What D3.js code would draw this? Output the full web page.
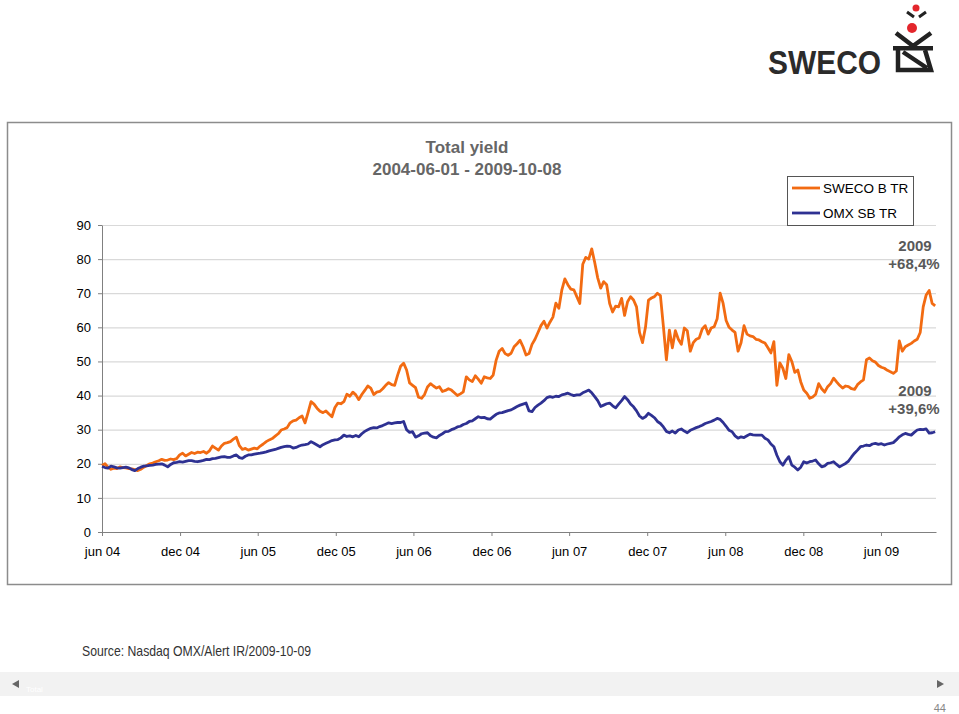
<!DOCTYPE html>
<html><head><meta charset="utf-8">
<script src="https://cdn.jsdelivr.net/npm/d3@7"></script>
<style>
body{margin:0;background:#fff;}
svg{display:block;font-family:"Liberation Sans",Arial,sans-serif;}
</style>
</head><body><svg id="c" width="959" height="714"></svg>
<script>
// ---------- DATA ----------
const startDate = "2004-06-01";
const endDate = "2009-10-08";
const seriesNames = ["SWECO B TR", "OMX SB TR"];
const seriesColors = ["#F26B12", "#2E3192"];
// weekly observations from 2004-06-01
const sweco = [
19.5,20.0,19.0,18.4,18.7,18.6,19.1,18.9,18.8,18.6,
18.5,18.3,18.0,18.4,19.0,19.5,20.0,20.2,20.6,20.9,
21.3,21.0,21.1,21.4,21.2,21.5,22.6,23.1,22.3,22.8,
23.3,23.0,23.4,23.3,23.6,23.1,23.8,25.2,24.6,24.0,
25.2,26.0,26.2,26.5,27.2,27.8,25.3,24.2,24.5,24.0,
24.3,24.6,24.4,25.2,25.8,26.5,27.0,27.4,28.1,28.8,
29.9,30.2,30.6,32.0,32.6,32.8,33.5,34.0,32.0,35.0,
38.2,37.5,36.3,35.4,35.0,35.5,34.6,33.8,36.5,37.8,
37.6,38.2,40.4,39.8,41.0,40.2,38.8,40.3,41.5,42.8,
42.2,40.3,41.0,41.2,42.0,43.0,43.8,43.2,43.0,46.0,
48.6,49.5,47.5,43.7,43.0,42.3,39.5,39.2,40.3,42.5,
43.5,42.8,42.2,42.6,41.2,41.5,42.0,41.6,40.8,40.0,
40.5,41.1,45.5,44.6,44.1,45.8,44.8,43.6,45.5,45.2,
45.0,46.0,50.4,53.0,53.8,52.3,51.8,52.4,54.3,55.2,
56.2,54.3,51.9,52.3,55.0,56.5,58.5,60.5,61.8,59.8,
61.5,63.0,67.1,65.6,71.0,74.2,72.5,71.2,71.0,69.0,
67.0,78.5,80.5,80.0,83.0,79.0,74.5,71.5,73.4,72.5,
67.0,64.5,66.2,66.0,68.5,63.5,67.5,69.0,68.0,66.0,
58.5,55.5,60.0,68.0,68.6,69.0,70.0,69.3,60.2,50.5,
59.2,54.0,59.0,56.5,55.0,59.8,59.0,53.0,55.5,56.5,
56.9,59.5,60.5,58.0,59.8,60.2,62.5,70.0,67.0,62.0,
60.0,59.2,58.5,53.0,55.5,60.5,58.0,57.5,57.3,56.5,
56.3,55.8,55.4,54.0,52.5,55.8,43.0,49.6,48.0,45.0,
52.0,50.0,46.8,47.5,44.0,41.6,40.7,39.2,39.6,40.4,
43.5,42.0,41.0,42.6,43.5,45.1,44.0,43.0,42.2,42.8,
42.6,42.0,41.8,43.2,44.0,44.6,50.5,51.0,50.2,49.8,
48.8,48.3,48.0,47.4,47.0,46.5,47.2,56.0,53.0,54.3,
54.8,55.3,56.0,56.5,58.5,66.0,69.5,70.8,67.0,66.3
];
const omx = [
19.2,18.9,18.7,19.3,19.1,18.8,18.7,18.9,19.0,18.8,
18.3,18.0,18.6,19.0,19.3,19.4,19.5,19.6,19.8,19.9,
20.0,19.6,19.1,19.8,20.3,20.4,20.6,20.5,20.7,20.9,
20.9,20.7,20.6,20.8,21.0,21.3,21.2,21.5,21.6,21.8,
22.0,22.1,21.9,21.9,22.3,22.6,21.8,21.6,22.2,22.6,
22.6,22.8,23.0,23.1,23.3,23.5,23.8,24.0,24.2,24.5,
24.8,25.0,25.2,25.1,24.6,24.8,25.2,25.5,25.6,25.8,
26.5,26.0,25.5,25.0,25.6,26.0,26.4,26.8,27.0,27.1,
27.6,28.4,28.0,28.2,27.9,28.3,27.9,28.8,29.5,30.0,
30.4,30.6,30.5,30.9,31.2,31.6,32.0,31.8,32.0,32.1,
32.1,32.4,30.0,29.2,29.4,27.8,28.2,28.8,29.0,29.1,
28.2,27.8,27.6,28.3,28.8,29.4,29.5,30.0,30.3,30.8,
31.0,31.5,31.8,32.4,32.6,33.2,33.8,33.5,33.6,33.2,
33.1,33.8,34.5,34.9,35.0,35.3,35.6,35.8,36.3,36.8,
37.2,37.5,37.8,35.5,35.3,36.5,37.2,37.8,38.5,39.4,
39.7,39.5,39.8,39.7,40.2,40.4,40.7,40.3,40.0,40.2,
40.2,40.8,41.2,41.6,40.8,39.7,38.5,36.8,37.2,37.6,
37.8,37.0,36.4,37.5,38.5,39.7,38.8,37.5,36.7,35.5,
34.0,33.3,33.8,34.8,34.2,33.5,32.4,31.8,30.8,29.5,
29.1,29.6,29.0,29.9,30.2,29.6,29.1,29.8,30.2,30.6,
30.9,31.3,31.8,32.1,32.4,32.8,33.3,33.0,32.1,31.0,
29.8,29.4,28.2,27.5,27.9,27.7,28.2,28.7,28.5,28.4,
28.4,28.4,27.5,27.0,25.8,25.0,22.5,20.6,19.6,21.0,
22.1,19.6,19.0,18.2,19.0,20.6,20.2,20.6,20.8,21.1,
20.0,19.1,19.4,20.1,20.3,20.6,19.8,19.1,19.6,20.1,
20.8,22.0,23.1,24.0,25.0,25.2,25.5,25.3,25.8,26.0,
25.7,25.9,25.5,25.8,26.0,26.2,27.0,27.9,28.5,28.9,
28.6,28.4,29.2,29.9,30.1,30.0,30.2,29.0,29.1,29.4
];
const yTicks = [0,10,20,30,40,50,60,70,80,90];
const xTickDates = ["2004-06-01","2004-12-01","2005-06-01","2005-12-01","2006-06-01","2006-12-01","2007-06-01","2007-12-01","2008-06-01","2008-12-01","2009-06-01"];
const xTickLabels = ["jun 04","dec 04","jun 05","dec 05","jun 06","dec 06","jun 07","dec 07","jun 08","dec 08","jun 09"];
const titleLines = ["Total yield", "2004-06-01 - 2009-10-08"];
const annotationYear = ["2009", "2009"];
const annotationText = ["+68,4%", "+39,6%"];
const sourceText = "Source: Nasdaq OMX/Alert IR/2009-10-09";
const pageNumber = "44";

// ---------- DRAW ----------
const svg = d3.select("#c");
const parse = d3.timeParse("%Y-%m-%d");
const t0 = parse(startDate);
const dates = sweco.map((_, i) => d3.timeDay.offset(t0, 7 * i));

const x = d3.scaleTime().domain([t0, parse(endDate)]).range([102, 936]);
const y = d3.scaleLinear().domain([0, 90]).range([532, 225]);

// Logo
const logo = svg.append("g");
logo.append("text").attr("x", 768).attr("y", 74).attr("font-size", 33).attr("font-weight", 900)
  .attr("fill", "#2b2b2b").attr("textLength", 113).attr("lengthAdjust", "spacingAndGlyphs").text("SWECO");
logo.append("circle").attr("cx", 916).attr("cy", 8).attr("r", 3.5).attr("fill", "#e3262c");
logo.append("path").attr("d", "M907,12 L914,17 M926,12 L919,17").attr("stroke", "#222").attr("stroke-width", 3).attr("fill", "none");
logo.append("circle").attr("cx", 912).attr("cy", 28).attr("r", 5).attr("fill", "#e3262c");
logo.append("path").attr("d", "M896,33 L913,46 M931,33 L913,46").attr("stroke", "#222").attr("stroke-width", 4.5).attr("fill", "none");
logo.append("rect").attr("x", 893).attr("y", 46).attr("width", 40).attr("height", 4.5).attr("fill", "#222");
logo.append("path").attr("d", "M898,50 L898,70 L931,70 L925,50 M903,52 L927,68").attr("stroke", "#222").attr("stroke-width", 4.5).attr("fill", "none");

// Chart frame
svg.append("rect").attr("x", 7.5).attr("y", 122.5).attr("width", 944).attr("height", 462)
  .attr("fill", "#fff").attr("stroke", "#8c8c8c").attr("stroke-width", 1.5);

// Title
svg.append("g").selectAll("text").data(titleLines).join("text")
  .attr("x", 467).attr("y", (d, i) => 153 + i * 22).attr("text-anchor", "middle")
  .attr("font-size", 17).attr("font-weight", "bold").attr("fill", "#666").text(d => d);

// Gridlines
svg.append("g").attr("transform", "translate(102,0)")
  .call(d3.axisLeft(y).tickValues(yTicks.filter(v => v > 0)).tickSize(-834).tickFormat(""))
  .call(g => g.select(".domain").remove())
  .call(g => g.selectAll("line").attr("stroke", "#d9d9d9").attr("stroke-width", 1.2));

// Y axis
svg.append("g").attr("transform", "translate(102,0)")
  .call(d3.axisLeft(y).tickValues(yTicks).tickSize(4).tickPadding(7).tickSizeOuter(0))
  .call(g => g.select(".domain").attr("stroke", "#808080"))
  .call(g => g.selectAll(".tick line").attr("stroke", "#808080"))
  .call(g => g.selectAll("text").attr("font-size", 13).attr("fill", "#000").attr("font-family", "Liberation Sans, Arial, sans-serif"));

// X axis
svg.append("g").attr("transform", "translate(0,532)")
  .call(d3.axisBottom(x).tickValues(xTickDates.map(parse)).tickFormat((d, i) => xTickLabels[i]).tickSize(4).tickPadding(11).tickSizeOuter(0))
  .call(g => g.select(".domain").attr("stroke", "#808080"))
  .call(g => g.selectAll(".tick line").attr("stroke", "#808080"))
  .call(g => g.selectAll("text").attr("font-size", 13).attr("fill", "#000").attr("font-family", "Liberation Sans, Arial, sans-serif"));

// Lines
const line = d3.line().x(d => x(d.date)).y(d => y(d.v)).curve(d3.curveLinear);
const series = [sweco, omx].map(arr => arr.map((v, i) => ({ date: dates[i], v })));
svg.append("g").selectAll("path").data(series).join("path")
  .attr("d", line).attr("fill", "none")
  .attr("stroke", (d, i) => seriesColors[i]).attr("stroke-width", 2.8)
  .attr("stroke-linejoin", "round");

// Legend
const lg = svg.append("g");
lg.append("rect").attr("x", 787.5).attr("y", 176.5).attr("width", 126).attr("height", 49)
  .attr("fill", "#fff").attr("stroke", "#555").attr("stroke-width", 1);
seriesNames.forEach((n, i) => {
  lg.append("line").attr("x1", 792).attr("x2", 820).attr("y1", 188 + i * 25).attr("y2", 188 + i * 25)
    .attr("stroke", seriesColors[i]).attr("stroke-width", 2.8);
  lg.append("text").attr("x", 823).attr("y", 193 + i * 25).attr("font-size", 13.5).attr("fill", "#000").text(n);
});

// Annotations
const annY = [y(82.4), y(39.9)];
annotationYear.forEach((t, i) => {
  svg.append("text").attr("x", 915).attr("y", annY[i]).attr("text-anchor", "middle")
    .attr("font-size", 15).attr("font-weight", "bold").attr("fill", "#595959").text(t);
  svg.append("text").attr("x", 914).attr("y", annY[i] + 18).attr("text-anchor", "middle")
    .attr("font-size", 15).attr("font-weight", "bold").attr("fill", "#595959").text(annotationText[i]);
});

// Source
svg.append("text").attr("x", 82).attr("y", 656).attr("font-size", 15)
  .attr("textLength", 229).attr("lengthAdjust", "spacingAndGlyphs")
  .attr("fill", "#333").text(sourceText);

// Bottom bar
svg.append("rect").attr("x", 0).attr("y", 672).attr("width", 959).attr("height", 24).attr("fill", "#f2f2f2");
svg.append("path").attr("d", "M12,684 L19,680 L19,688 Z").attr("fill", "#666");
svg.append("path").attr("d", "M944,684 L937,680 L937,688 Z").attr("fill", "#666");
svg.append("text").attr("x", 26).attr("y", 692).attr("font-size", 8).attr("fill", "#fff").text("Total");
svg.append("text").attr("x", 946).attr("y", 712).attr("text-anchor", "end").attr("font-size", 11)
  .attr("fill", "#888").text(pageNumber);
</script>
</body></html>
